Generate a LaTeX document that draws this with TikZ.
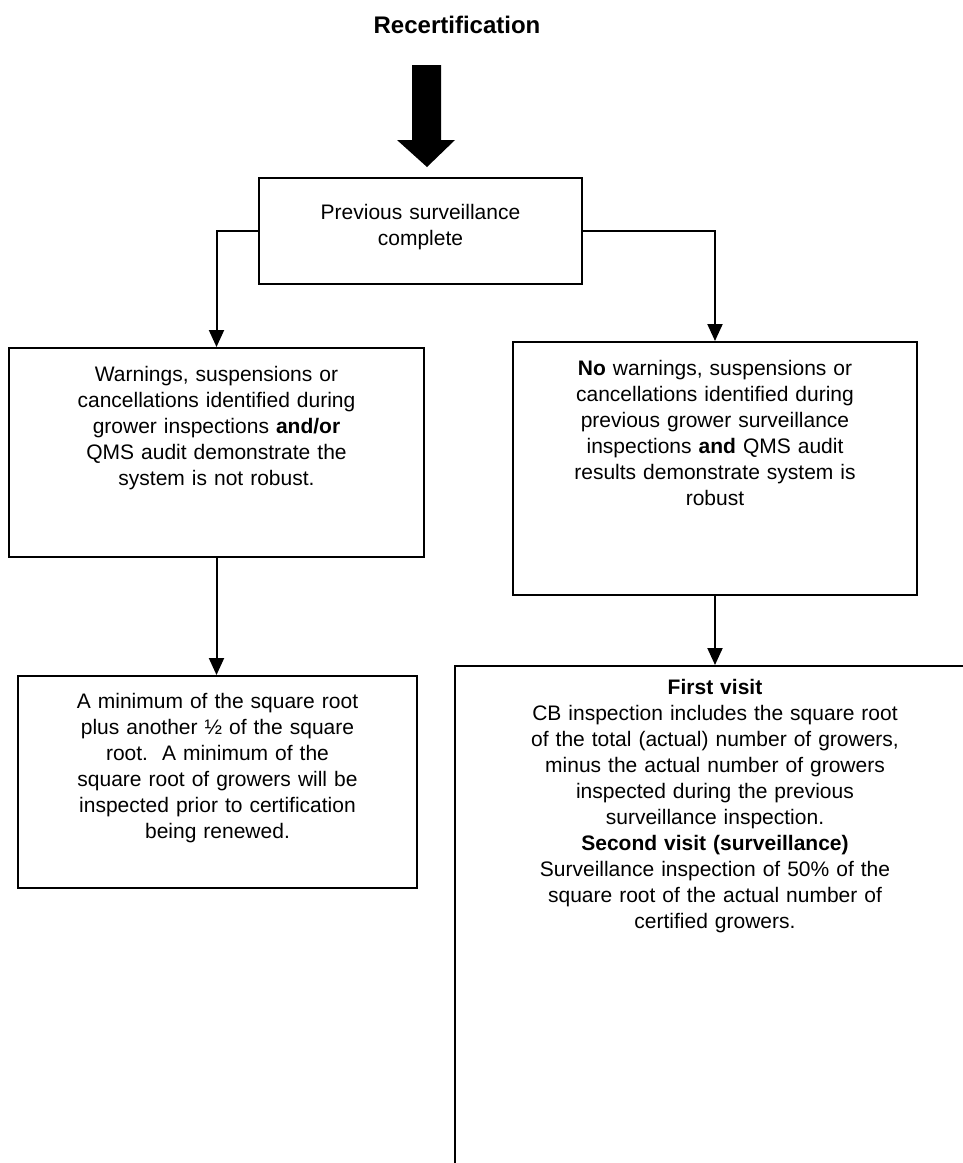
\documentclass[tikz,border=0pt]{standalone}
\usepackage{fontspec}
\setmainfont{Liberation Sans}
\usetikzlibrary{arrows.meta}
\begin{document}
\begin{tikzpicture}[
		x=0.5pt, y=-0.5pt,
		bx/.style = {rectangle, draw=black, line width=1pt, inner sep=0pt, align=center, anchor=north, font=\fontsize{10.5}{13}\selectfont},
		ar/.style = {-{Triangle[width=7.5pt, length=8.5pt]}, line width=1pt}
		]
		
		\clip (0,0) rectangle (963,1163);
		
		%Nodes
		\node[font=\bfseries\fontsize{12}{14}\selectfont]	(title)	at	(457,25)	{Recertification};
		\node[bx, text width=161.5pt, text height=20.5pt, text depth=32.5pt]	(prev)	at	(420.5,177)	{Previous surveillance\\complete};
		\node[bx, text width=207.5pt, text height=16.5pt, text depth=88pt]	(warn)	at	(216.5,347)	{Warnings, suspensions or\\cancellations identified during\\grower inspections \textbf{and/or}\\QMS audit demonstrate the\\system is not robust.};
		\node[bx, text width=202pt, text height=16.5pt, text depth=110pt]	(nowarn)	at	(715,341)	{\textbf{No} warnings, suspensions or\\cancellations identified during\\previous grower surveillance\\inspections \textbf{and} QMS audit\\results demonstrate system is\\robust};
		\node[bx, text width=199.5pt, text height=16pt, text depth=90pt]	(minimum)	at	(217.5,675)	{A minimum of the square root\\plus another ½ of the square\\root.\ \ A minimum of the\\square root of growers will be\\inspected prior to certification\\being renewed.};
		\node[bx, text width=260pt, text height=14pt, text depth=260pt]	(visits)	at	(715,665)	{\textbf{First visit}\\CB inspection includes the square root\\of the total (actual) number of growers,\\minus the actual number of growers\\inspected during the previous\\surveillance inspection.\\\textbf{Second visit (surveillance)}\\Surveillance inspection of 50\% of the\\square root of the actual number of\\certified growers.};
		
		%Big arrow
		\fill	(412,65) -- (441,65) -- (441,140) -- (455,140) -- (427,167) -- (397,140) -- (412,140) -- cycle;
		
		%Lines
		\draw[ar]	(prev.west)	-|	(warn.north);
		\draw[ar]	(prev.east)	-|	(nowarn.north);
		\draw[ar]	(warn.south)	--	(warn.south |- minimum.north);
		\draw[ar]	(nowarn.south)	--	(visits.north);
	\end{tikzpicture}
\end{document}
